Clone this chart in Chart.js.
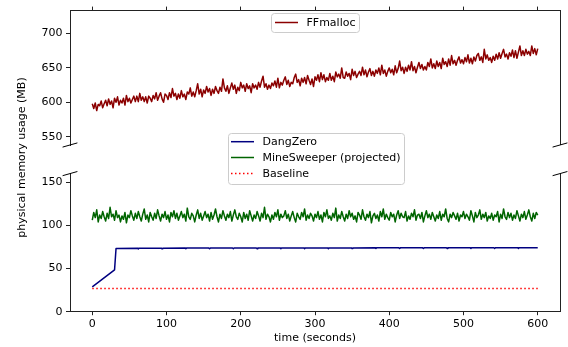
<!DOCTYPE html>
<html>
<head>
<meta charset="utf-8">
<script src="https://cdn.jsdelivr.net/npm/chart.js@4.4.1/dist/chart.umd.min.js"></script>
<style>
  html, body { margin: 0; padding: 0; background: #fff; }
  #wrap { position: relative; width: 568px; height: 347px; }
  #wrap canvas { position: absolute; left: 0; top: 0; }
</style>
</head>
<body>
<div id="wrap">
  <canvas id="upper" width="568" height="347"></canvas>
  <canvas id="lower" width="568" height="347"></canvas>
</div>
<script>
// values (MB vs seconds)
const xTicks = [0, 100, 200, 300, 400, 500, 600];
const upperTicks = [550, 600, 650, 700];
const lowerTicks = [0, 50, 100, 150];

// one sample every 2 s
const sampleTimes = Array.from({ length: 301 }, (_, i) => i * 2);

const ffmalloc = [
  598, 591, 599, 588, 597, 595, 602, 592, 598, 603,
  595, 605, 597, 602, 592, 606, 600, 608, 596, 603,
  599, 606, 596, 610, 601, 606, 599, 604, 609, 601,
  609, 601, 613, 603, 608, 601, 608, 599, 609, 606,
  601, 610, 605, 614, 603, 609, 614, 605, 600, 612,
  610, 604, 614, 607, 620, 609, 613, 604, 612, 606,
  617, 608, 612, 604, 615, 612, 621, 609, 615, 608,
  617, 627, 612, 619, 608, 618, 613, 623, 615, 620,
  610, 619, 613, 623, 617, 613, 622, 616, 634, 621,
  616, 624, 613, 621, 628, 619, 625, 613, 622, 617,
  629, 621, 625, 616, 627, 620, 624, 614, 627, 621,
  625, 619, 629, 622, 631, 638, 622, 627, 619, 625,
  620, 628, 624, 631, 622, 635, 621, 629, 625, 632,
  637, 626, 632, 623, 629, 627, 636, 641, 629, 633,
  624, 635, 629, 636, 627, 639, 632, 626, 634, 623,
  637, 632, 640, 630, 643, 633, 640, 630, 636, 632,
  642, 632, 638, 630, 644, 637, 641, 635, 650, 636,
  635, 644, 638, 642, 633, 648, 639, 645, 636, 641,
  645, 639, 651, 640, 647, 637, 644, 649, 639, 645,
  638, 647, 642, 650, 640, 654, 642, 647, 638, 645,
  650, 643, 648, 640, 653, 643, 649, 660, 646, 651,
  642, 651, 645, 654, 647, 659, 646, 652, 643, 651,
  658, 649, 655, 647, 652, 647, 658, 652, 663, 650,
  656, 649, 660, 652, 658, 649, 664, 655, 659, 652,
  663, 654, 668, 656, 661, 654, 661, 666, 657, 662,
  656, 665, 659, 669, 657, 664, 656, 666, 660, 668,
  671, 661, 666, 658, 677, 663, 669, 661, 665, 658,
  667, 661, 670, 663, 672, 664, 671, 677, 666, 670,
  663, 672, 667, 676, 665, 675, 664, 673, 682, 668,
  675, 668, 677, 670, 674, 668, 682, 671, 678, 669,
  678
];

const mineSweeper = [
  106, 115, 109, 118, 104, 112, 108, 116, 110, 105,
  114, 108, 121, 110, 113, 106, 117, 109, 112, 104,
  111, 107, 115, 103, 112, 109, 117, 111, 106, 114,
  108, 116, 110, 105, 113, 119, 107, 112, 104, 115,
  110, 106, 114, 108, 118, 111, 105, 113, 109, 116,
  107, 112, 104, 115, 110, 117, 108, 114, 106, 111,
  116, 109, 113, 105, 120, 110, 107, 114, 111, 104,
  112, 118, 108, 114, 106, 111, 116, 109, 113, 105,
  115, 107, 112, 119, 110, 104, 113, 108, 117, 111,
  106, 113, 109, 116, 105, 112, 118, 110, 107, 114,
  110, 104, 115, 108, 113, 106, 117, 111, 105, 112,
  108, 116, 111, 105, 114, 109, 121, 107, 113, 110,
  104, 112, 107, 115, 110, 118, 106, 113, 109, 111,
  117, 108, 113, 105, 111, 116, 109, 104, 114, 110,
  107, 115, 110, 119, 106, 112, 108, 114, 111, 105,
  113, 109, 116, 107, 112, 104, 115, 110, 118, 108,
  111, 106, 114, 109, 120, 105, 112, 108, 116, 110,
  105, 113, 108, 117, 110, 114, 107, 111, 104, 115,
  112, 107, 118, 110, 106, 113, 109, 116, 103, 111,
  114, 108, 112, 105, 116, 110, 119, 107, 113, 109,
  106, 115, 110, 113, 104, 112, 117, 108, 114, 110,
  109, 116, 105, 111, 107, 114, 110, 118, 106, 112,
  113, 108, 115, 104, 111, 117, 109, 113, 107, 115,
  110, 105, 112, 108, 116, 106, 113, 110, 119, 108,
  104, 113, 109, 115, 111, 107, 114, 105, 112, 110,
  116, 108, 113, 110, 106, 117, 111, 104, 115, 109,
  112, 118, 107, 113, 109, 115, 105, 111, 108, 114,
  106, 112, 110, 116, 104, 113, 108, 119, 110, 107,
  115, 109, 114, 106, 112, 108, 117, 111, 105, 113,
  109, 116, 107, 112, 118, 110, 105, 114, 108, 115,
  112
];

const dangZeroTime = [
  0, 30, 32,
  61, 62, 63, 93, 94, 95, 125, 126, 127, 157, 158, 159,
  189, 190, 191, 221, 222, 223, 253, 254, 255, 285, 286, 287,
  317, 318, 319, 349, 350, 351, 381, 382, 383, 413, 414, 415,
  445, 446, 447, 477, 478, 479, 509, 510, 511, 541, 542, 543,
  573, 574, 575, 600
];
const dangZero = [
  28.8, 48.5, 73.2,
  73.6, 72.8, 73.6, 73.6, 72.8, 73.6, 73.7, 72.9, 73.7, 73.7, 72.9, 73.7,
  73.8, 73.0, 73.8, 73.8, 73.0, 73.8, 73.8, 73.0, 73.8, 73.9, 73.1, 73.9,
  73.9, 73.1, 73.9, 73.9, 73.1, 73.9, 74.0, 73.2, 74.0, 74.0, 73.2, 74.0,
  74.0, 73.2, 74.0, 74.1, 73.3, 74.1, 74.1, 73.3, 74.1, 74.1, 73.3, 74.1,
  74.2, 73.4, 74.2, 74.2
];

const baselineTime = [0, 600];
const baseline = [27, 27];

const INK = '#000';
const SPINE = '#222';
const FONT = '11px "DejaVu Sans", sans-serif';

Chart.defaults.font.family = '"DejaVu Sans", sans-serif';
Chart.defaults.font.size = 11;
Chart.defaults.color = INK;

function pairs(xs, ys) {
  return xs.map((x, i) => ({ x: x, y: ys[i] }));
}

function xAxis(position) {
  const bottom = position === 'bottom';
  return {
    type: 'linear',
    position: position,
    min: -30,
    max: 630,
    afterBuildTicks: s => { s.ticks = xTicks.map(v => ({ value: v })); },
    afterFit: s => { s.height = bottom ? 35.3 : 7; },
    border: { display: true, color: SPINE, width: 1 },
    grid: { drawOnChartArea: false, drawTicks: true, tickLength: 3.5, color: SPINE },
    ticks: { display: bottom, color: INK, padding: 2.5, maxRotation: 0, autoSkip: false },
    title: {
      display: bottom,
      text: 'time (seconds)',
      color: INK,
      padding: { top: 0, bottom: 2.4 }
    }
  };
}

function yAxis(min, max, ticks) {
  return {
    type: 'linear',
    position: 'left',
    min: min,
    max: max,
    afterBuildTicks: s => { s.ticks = ticks.map(v => ({ value: v })); },
    afterFit: s => { s.width = 70; },
    border: { display: true, color: SPINE, width: 1 },
    grid: { drawOnChartArea: false, drawTicks: true, tickLength: 4, color: SPINE },
    ticks: { color: INK, padding: 3.5 }
  };
}

// right spine, broken-axis marks, legend box and the shared y label
const decor = {
  id: 'decor',
  afterDraw(chart, args, opts) {
    const ctx = chart.ctx;
    const a = chart.chartArea;
    ctx.save();
    ctx.strokeStyle = SPINE;
    ctx.lineWidth = 1;
    ctx.beginPath();
    ctx.moveTo(Math.round(a.right) + 0.5, a.top);
    ctx.lineTo(Math.round(a.right) + 0.5, a.bottom);
    ctx.stroke();

    const ey = opts.breakEdge === 'bottom' ? a.bottom : a.top;
    ctx.strokeStyle = '#000';
    [a.left, a.right].forEach(ex => {
      ctx.beginPath();
      ctx.moveTo(ex - 7.4, ey + 2.1);
      ctx.lineTo(ex + 7.4, ey - 2.1);
      ctx.stroke();
    });

    const lg = opts.legend;
    ctx.fillStyle = 'rgba(255,255,255,0.8)';
    ctx.strokeStyle = '#ccc';
    ctx.beginPath();
    ctx.roundRect(lg.x + 0.5, lg.y + 0.5, lg.w, lg.h, 3);
    ctx.fill();
    ctx.stroke();
    chart.data.datasets.forEach((ds, i) => {
      const ry = lg.rows[i];
      ctx.strokeStyle = ds.borderColor;
      ctx.lineWidth = ds.borderWidth;
      ctx.setLineDash(ds.borderDash || []);
      ctx.beginPath();
      ctx.moveTo(lg.lineX0, ry);
      ctx.lineTo(lg.lineX1, ry);
      ctx.stroke();
      ctx.setLineDash([]);
      ctx.fillStyle = INK;
      ctx.font = FONT;
      ctx.textBaseline = 'middle';
      ctx.textAlign = 'left';
      ctx.fillText(ds.label, lg.textX, ry + 0.5);
    });

    if (opts.yLabel) {
      ctx.translate(21.7, 157.5);
      ctx.rotate(-Math.PI / 2);
      ctx.fillStyle = INK;
      ctx.font = FONT;
      ctx.textAlign = 'center';
      ctx.textBaseline = 'middle';
      ctx.fillText(opts.yLabel, 0, 0);
    }
    ctx.restore();
  }
};

const lineStyle = { pointRadius: 0, borderWidth: 1.5, tension: 0, fill: false, borderJoinStyle: 'round' };

new Chart(document.getElementById('upper'), {
  type: 'line',
  data: {
    datasets: [
      Object.assign({ label: 'FFmalloc', data: pairs(sampleTimes, ffmalloc), borderColor: '#8b0000' }, lineStyle)
    ]
  },
  options: {
    responsive: false,
    animation: false,
    events: [],
    layout: { padding: { top: 0, left: 0, right: 8, bottom: 202 } },
    scales: { x: xAxis('top'), y: yAxis(538, 734, upperTicks) },
    plugins: {
      legend: { display: false },
      tooltip: { enabled: false },
      decor: {
        breakEdge: 'bottom',
        yLabel: 'physical memory usage (MB)',
        legend: { x: 271, y: 13, w: 88, h: 19, rows: [22.5], lineX0: 275, lineX1: 298, textX: 306.5 }
      }
    }
  },
  plugins: [decor]
});

new Chart(document.getElementById('lower'), {
  type: 'line',
  data: {
    datasets: [
      Object.assign({ label: 'DangZero', data: pairs(dangZeroTime, dangZero), borderColor: '#000080' }, lineStyle),
      Object.assign({ label: 'MineSweeper (projected)', data: pairs(sampleTimes, mineSweeper), borderColor: '#006400' }, lineStyle),
      Object.assign({ label: 'Baseline', data: pairs(baselineTime, baseline), borderColor: '#ff0000', borderDash: [1.5, 2.5] }, lineStyle)
    ]
  },
  options: {
    responsive: false,
    animation: false,
    events: [],
    layout: { padding: { top: 173.6, left: 0, right: 8, bottom: 0 } },
    scales: { x: xAxis('bottom'), y: yAxis(0, 160, lowerTicks) },
    plugins: {
      legend: { display: false },
      tooltip: { enabled: false },
      decor: {
        breakEdge: 'top',
        legend: { x: 228, y: 133, w: 176, h: 51, rows: [141.7, 157.5, 173.5], lineX0: 231, lineX1: 254, textX: 262.5 }
      }
    }
  },
  plugins: [decor]
});
</script>
</body>
</html>
